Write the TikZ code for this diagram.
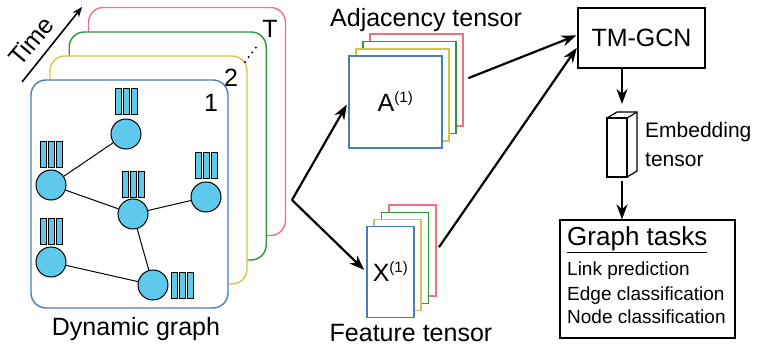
\documentclass[tikz,border=0pt]{standalone}
\usepackage{fontspec}
\setmainfont{Liberation Sans}
\usetikzlibrary{calc,arrows.meta,positioning}

\definecolor{fblue}{RGB}{74,126,187}
\definecolor{fyellow}{RGB}{214,196,74}
\definecolor{fgreen}{RGB}{46,150,60}
\definecolor{fred}{RGB}{240,112,128}
\definecolor{vcyan}{RGB}{95,201,235}

\newcommand{\sidx}{\textsuperscript{\fontsize{15}{15}\selectfont(1)}}

\begin{document}
\begin{tikzpicture}[x=1pt,y=-1pt,
  frame/.style={draw, line width=1.4pt, rounded corners=15pt, fill=white,
    minimum width=197pt, minimum height=228pt},
  vert/.style={circle, draw, fill=vcyan, line width=1pt, minimum size=30pt, inner sep=0pt},
  link/.style={line width=1pt},
  mat/.style={draw, line width=1.4pt, fill=white, inner sep=0pt},
  flow/.style={-{Stealth[length=15pt,width=11pt]}, line width=2.2pt},
  big/.style={inner sep=0pt, font=\fontsize{25}{30}\selectfont},
  mid/.style={inner sep=0pt, font=\fontsize{21}{25}\selectfont},
  small/.style={inner sep=0pt, font=\fontsize{19}{23}\selectfont},
  feat/.pic={\foreach \dx in {-8,0,8}
      \draw[fill=vcyan, line width=0.6pt] (\dx-3.2,-13) rectangle (\dx+3.2,13);}]

\useasboundingbox (0,0) rectangle (761,345);

% stack of snapshots, last one at the back
\node[frame, draw=fred]    (frT) at (187,121.5) {};
\node[frame, draw=fgreen]  (fr3) at (167.7,146) {};
\node[frame, draw=fyellow] (fr2) at (148.5,170) {};
\node[frame, draw=fblue]   (fr1) at (129.5,194) {};

\node[big] (lT) at (270,29) {T};
\node[big] (l2) at (231,78) {2};
\node[big] (l1) at (211,103) {1};
\foreach \i in {0,...,3}
  \fill ({245+\i*3.6},{62-\i*4.8}) circle (1.1pt);

% time direction
\coordinate (t0) at (22,82);
\coordinate (t1) at (82,7);
\draw[-{Stealth[length=10pt,width=8pt]}, line width=1.6pt] (t0) -- (t1);
\node[big, rotate=50] (time) at (31,41) {Time};

% graph of snapshot 1
\node[vert] (v1) at (126,134) {};
\node[vert] (v2) at (51,185) {};
\node[vert] (v3) at (133,214) {};
\node[vert] (v4) at (206,197) {};
\node[vert] (v5) at (51,262) {};
\node[vert] (v6) at (153,285) {};
\draw[link] (v1) -- (v2);
\draw[link] (v2) -- (v3);
\draw[link] (v3) -- (v4);
\draw[link] (v3) -- (v6);
\draw[link] (v5) -- (v6);

\pic at (126,101) {feat};
\pic at (51,154) {feat};
\pic at (133,184) {feat};
\pic at (206,165) {feat};
\pic at (51,231) {feat};
\pic at (182,285) {feat};

\node[big, anchor=base] (dyn) at (136,335) {Dynamic graph};

% adjacency tensor
\node[mat, draw=fred,    minimum width=93pt, minimum height=92pt] (adjT) at (416.5,80) {};
\node[mat, draw=fgreen,  minimum width=93pt, minimum height=92pt] (adj3) at (409.5,87.5) {};
\node[mat, draw=fyellow, minimum width=93pt, minimum height=92pt] (adj2) at (402.5,95) {};
\node[mat, draw=fblue,   minimum width=93pt, minimum height=92pt] (adj1) at (395.5,102) {};
\node[big] at (adj1) {A\sidx};
\node[big, anchor=base west] (adjlbl) at (330,27) {Adjacency tensor};

% feature tensor
\node[mat, draw=fred,    minimum width=47pt, minimum height=91pt] (featT) at (412.5,250.5) {};
\node[mat, draw=fgreen,  minimum width=47pt, minimum height=91pt] (feat3) at (405,258) {};
\node[mat, draw=fyellow, minimum width=47pt, minimum height=91pt] (feat2) at (397.5,265) {};
\node[mat, draw=fblue,   minimum width=47pt, minimum height=91pt] (feat1) at (390.5,272) {};
\node[big] at (feat1) {X\sidx};
\node[big, anchor=base] (featlbl) at (411,341) {Feature tensor};

% split into the two tensors
\coordinate (br) at (292,200);
\draw[flow, shorten >=3pt] (br) -- (adj1.west);
\draw[flow, shorten >=3pt] (br) -- (feat1.west);

% model
\node[draw, line width=1.2pt, minimum width=127pt, minimum height=60pt, big] (tm) at (641.5,38) {TM-GCN};
\draw[flow, shorten <=5pt, shorten >=1pt] (adjT.east) -- ([yshift=3pt]tm.west);
\draw[flow, shorten <=4pt, shorten >=1pt] (featT.east) -- ([yshift=-9pt]tm.west);

% embedding tensor
\coordinate (e1) at (607,118);
\coordinate (e2) at (627,118);
\coordinate (e3) at (627,177);
\coordinate (e4) at (607,177);
\draw[line width=1.2pt, fill=white] (e1) -- (e2) -- (e3) -- (e4) -- cycle;
\draw[line width=1.2pt] (e1) -- ++(10,-6) -- ++(20,0) -- ++(0,59) -- (e3);
\draw[line width=1.2pt] (e2) -- ++(10,-6);
\node[mid, anchor=base west] (emb) at (645,137) {Embedding};
\node[mid, anchor=base west] (embt) at (645,166) {tensor};
\coordinate (etop) at (622,104);
\coordinate (ebot) at (622,181);
\draw[flow] (tm.south -| etop) -- (etop);

% downstream tasks
\node[draw, line width=1.2pt, minimum width=175pt, minimum height=118pt] (tasks) at (647.5,279) {};
\draw[flow] (ebot) -- (ebot |- tasks.north);
\node[big, font=\fontsize{26}{30}\selectfont, anchor=base west] (gt) at (567,245) {\underline{Graph tasks}};
\node[small, anchor=base west] (t1) at (567,275) {Link prediction};
\node[small, anchor=base west] (t2) at (567,300) {Edge classification};
\node[small, anchor=base west] (t3) at (567,323) {Node classification};

\end{tikzpicture}
\end{document}
